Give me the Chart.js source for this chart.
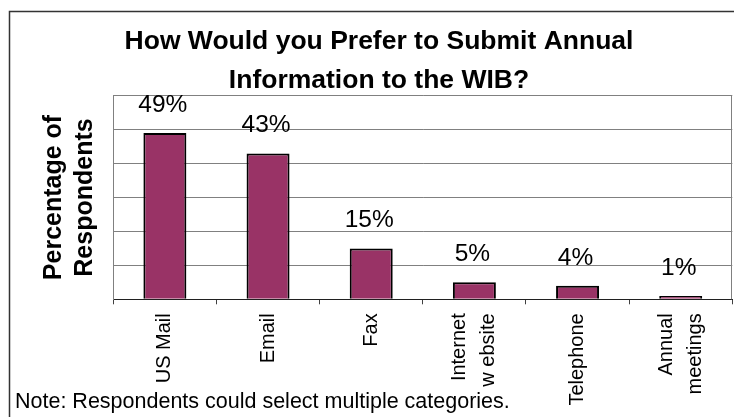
<!DOCTYPE html>
<html>
<head>
<meta charset="utf-8">
<script src="https://cdn.jsdelivr.net/npm/chart.js@4/dist/chart.umd.min.js"></script>
<style>
  html, body { margin: 0; padding: 0; background: #fff; }
  #wrap { width: 734px; height: 417px; position: relative; }
</style>
</head>
<body>
<div id="wrap"><canvas id="c" width="734" height="417"></canvas></div>
<script>
// Survey answers: preferred way to submit annual information
const categories = ['US Mail', 'Email', 'Fax', ['Internet', 'w ebsite'], 'Telephone', ['Annual', 'meetings']];
const percentages = [49, 43, 15, 5, 4, 1];
const axisMin = 0;
const axisMax = 60;
const axisStep = 10;
const titleLines = ['How Would you Prefer to Submit Annual', 'Information to the WIB?'];
const axisTitleLines = ['Percentage of', 'Respondents'];
const footNote = 'Note: Respondents could select multiple categories.';

const FONT = "'Liberation Sans', Arial, Helvetica, sans-serif";

// Frame around the whole chart, right plot edge, value labels and the footnote
const decorations = {
  id: 'decorations',
  beforeDraw(chart) {
    const ctx = chart.ctx;
    ctx.save();
    ctx.strokeStyle = '#333333';
    ctx.lineWidth = 1.5;
    ctx.strokeRect(9.5, 11.5, 900, 600);
    ctx.restore();

    // centre stacked (multi-line) category labels on their tick
    const sx = chart.scales.x;
    const items = sx.getLabelItems(chart.chartArea);
    items.forEach(it => {
      if (Array.isArray(it.label) && !it._centred) {
        it.options.translation[0] -= (it.label.length - 1) * it.font.lineHeight / 2;
        it._centred = true;
      }
    });
  },
  beforeDatasetsDraw(chart) {
    const {ctx, chartArea} = chart;
    ctx.save();
    ctx.strokeStyle = '#808080';
    ctx.lineWidth = 1;
    ctx.beginPath();
    ctx.moveTo(Math.round(chartArea.right) - 0.5, chartArea.top);
    ctx.lineTo(Math.round(chartArea.right) - 0.5, chartArea.bottom);
    ctx.stroke();
    ctx.restore();
  },
  afterDatasetsDraw(chart) {
    const ctx = chart.ctx;
    const meta = chart.getDatasetMeta(0);
    const values = chart.data.datasets[0].data;
    ctx.save();
    ctx.fillStyle = '#000';
    ctx.font = '24.5px ' + FONT;
    ctx.textAlign = 'center';
    ctx.textBaseline = 'alphabetic';
    meta.data.forEach((bar, i) => {
      ctx.fillText(values[i] + '%', bar.x - 2, bar.y - 21);
    });
    ctx.font = '21.5px ' + FONT;
    ctx.textAlign = 'left';
    ctx.fillText(footNote, 15, 408.3);
    ctx.restore();
  }
};

new Chart(document.getElementById('c'), {
  type: 'bar',
  data: {
    labels: categories,
    datasets: [{
      data: percentages,
      backgroundColor: '#993366',
      borderColor: '#000000',
      borderWidth: 2,
      categoryPercentage: 1,
      barPercentage: 0.4167
    }]
  },
  options: {
    responsive: false,
    animation: false,
    layout: { padding: { left: 25.7, right: 1.7, top: 0, bottom: 0 } },
    plugins: {
      legend: { display: false },
      tooltip: { enabled: false },
      title: {
        display: true,
        text: titleLines,
        color: '#000',
        font: { family: FONT, size: 26.5, weight: 'bold', lineHeight: 1.487 },
        padding: { top: 21.5, bottom: -4.6 }
      }
    },
    scales: {
      x: {
        grid: { drawOnChartArea: false, drawTicks: true, tickLength: 5, color: '#404040', offset: true },
        border: { display: true, color: '#202020', width: 1 },
        ticks: {
          color: '#000',
          font: { family: FONT, size: 20, lineHeight: 1.45 },
          minRotation: 90,
          maxRotation: 90,
          autoSkip: false,
          padding: 9
        },
        afterFit(scale) {
          scale.height = 117.7;
          scale.paddingLeft = 0;
          scale.paddingRight = 0;
        }
      },
      y: {
        min: axisMin,
        max: axisMax,
        ticks: { stepSize: axisStep, display: false },
        grid: { color: '#808080', lineWidth: 1, drawTicks: false },
        border: { display: true, color: '#808080', width: 1 },
        title: {
          display: true,
          text: axisTitleLines,
          color: '#000',
          font: { family: FONT, size: 25, weight: 'bold', lineHeight: 1.24 },
          padding: { top: 12.8, bottom: 0 }
        },
        afterFit(scale) { scale.width = 87.6; }
      }
    }
  },
  plugins: [decorations]
});
</script>
</body>
</html>
